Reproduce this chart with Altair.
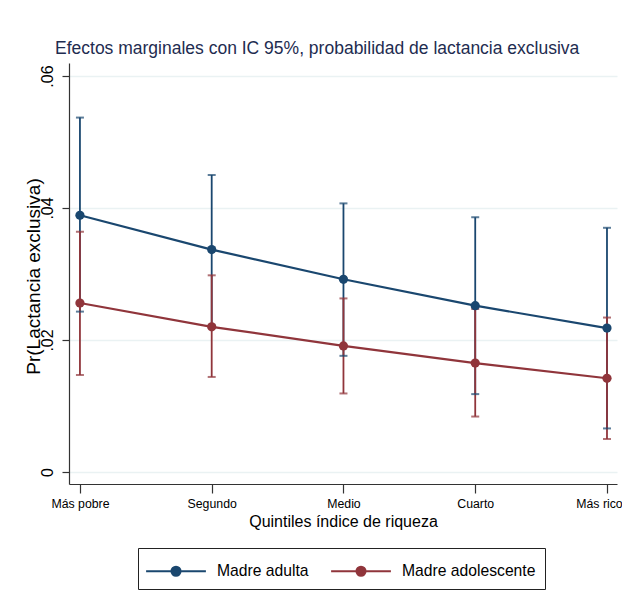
import altair as alt
import pandas as pd

categories = ["Más pobre", "Segundo", "Medio", "Cuarto", "Más rico"]
series_names = ["Madre adulta", "Madre adolescente"]

adulta = [0.0389, 0.0337, 0.0292, 0.0252, 0.0218]
adulta_lo = [0.0243, 0.0222, 0.0176, 0.0118, 0.0066]
adulta_hi = [0.0537, 0.0450, 0.0407, 0.0386, 0.0370]

adol = [0.0256, 0.0220, 0.0191, 0.0165, 0.0142]
adol_lo = [0.0147, 0.0144, 0.0119, 0.0084, 0.0050]
adol_hi = [0.0364, 0.0298, 0.0263, 0.0247, 0.0234]

y_ticks = [0, 0.02, 0.04, 0.06]

rows = []
for i, c in enumerate(categories):
    rows.append(dict(idx=i, cat=c, serie=series_names[0],
                     y=adulta[i], lo=adulta_lo[i], hi=adulta_hi[i]))
for i, c in enumerate(categories):
    rows.append(dict(idx=i, cat=c, serie=series_names[1],
                     y=adol[i], lo=adol_lo[i], hi=adol_hi[i]))
df = pd.DataFrame(rows)

FONT = "Liberation Sans"
colors = ["#1a476f", "#90353b"]
color_scale = alt.Scale(domain=series_names, range=colors)

label_expr = "[" + ",".join(f"'{c}'" for c in categories) + "][datum.value]"
ylabel_expr = "datum.value == 0 ? '0' : replace(format(datum.value, '.2f'), '0.', '.')"

x_enc = alt.X("idx:Q",
              scale=alt.Scale(domain=[-0.083, 4.076], nice=False, zero=False),
              axis=alt.Axis(values=[0, 1, 2, 3, 4], labelExpr=label_expr,
                            title="Quintiles índice de riqueza", grid=False,
                            labelFlush=False, tickSize=9, labelPadding=4,
                            labelOffset=alt.condition("datum.value == 4",
                                                      alt.value(-8), alt.value(0)),
                            labelFontSize=12.3, titleFontSize=16, titlePadding=4,
                            domainColor="#333333", tickColor="#333333",
                            tickWidth=1.2, domainWidth=1.2))
y_scale = alt.Scale(domain=[-0.00182, 0.06197], nice=False, zero=False)
y_axis = alt.Axis(values=y_ticks, labelExpr=ylabel_expr,
                  title="Pr(Lactancia exclusiva)", grid=True,
                  gridColor="#eaf2f3", gridWidth=1.6,
                  labelAngle=-90, labelAlign="center", labelBaseline="middle",
                  labelFontSize=16, labelPadding=15, tickSize=7,
                  titleFontSize=19, titleX=-30, titleY=213, titleAngle=-90,
                  titleAlign="center", titleBaseline="alphabetic",
                  domainColor="#333333", tickColor="#333333",
                  tickWidth=1.2, domainWidth=1.2, labelFlush=False)

color_enc = alt.Color("serie:N", scale=color_scale,
                      legend=alt.Legend(
                          title=None, orient="none", legendX=69, legendY=485,
                          direction="horizontal", columns=2,
                          strokeColor="#222222", padding=9, fillColor="white",
                          symbolType="M-2.3,0H2.3M-0.35,0A0.35,0.35,0,1,1,0.35,0A0.35,0.35,0,1,1,-0.35,0Z",
                          symbolSize=676, symbolStrokeWidth=2, symbolOpacity=1,
                          symbolOffset=15,
                          labelFontSize=15.7, labelOffset=27, columnPadding=18,
                          labelFont=FONT, labelColor="black"))

base = alt.Chart(df)

rules = base.mark_rule(strokeWidth=1.8).encode(
    x=x_enc, y=alt.Y("lo:Q", scale=y_scale, axis=y_axis), y2="hi:Q",
    color=color_enc, detail="serie:N")
caps_lo = base.mark_tick(orient="horizontal", size=8, thickness=2).encode(
    x="idx:Q", y="lo:Q", color=color_enc)
caps_hi = base.mark_tick(orient="horizontal", size=8, thickness=2).encode(
    x="idx:Q", y="hi:Q", color=color_enc)
lines = base.mark_line(strokeWidth=2.2).encode(
    x="idx:Q", y="y:Q", color=color_enc, order="idx:Q", detail="serie:N")
points = base.mark_point(filled=True, opacity=1, size=85, shape="circle").encode(
    x="idx:Q", y="y:Q", color=color_enc)

chart = alt.layer(rules, caps_lo, caps_hi, lines, points).properties(
    width=548, height=421,
    title=alt.TitleParams(
        "Efectos marginales con IC 95%, probabilidad de lactancia exclusiva",
        anchor="start", frame="group", fontSize=17.5, font=FONT,
        fontWeight="normal", color="#1e2c50", offset=6, dx=-14),
    autosize=alt.AutoSizeParams(type="none"),
    padding={"left": 61, "top": 55, "right": 5, "bottom": 115},
).configure(background="white").configure_view(stroke=None).configure_axis(
    labelFont=FONT, titleFont=FONT, labelColor="black", titleColor="black",
    titleFontWeight="normal"
)

chart.save("out.html", embed_options={"renderer": "svg", "actions": False})
